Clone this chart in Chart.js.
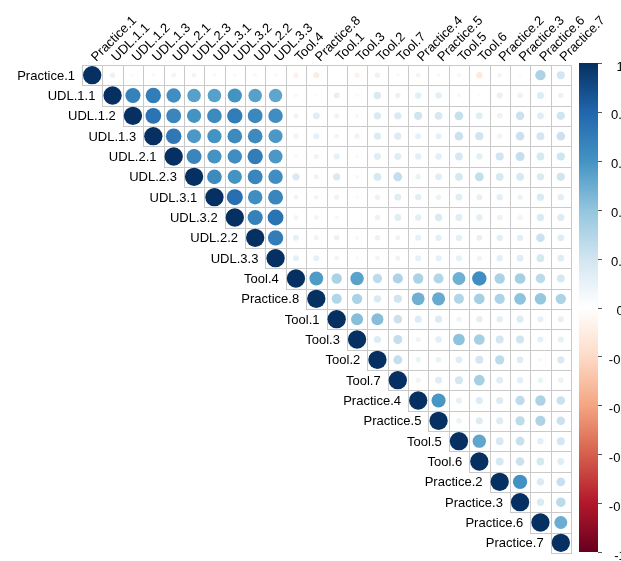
<!DOCTYPE html>
<html>
<head>
<meta charset="utf-8">
<script src="https://cdn.jsdelivr.net/npm/chart.js@4.4.1/dist/chart.umd.min.js"></script>
<style>
  html, body { margin: 0; padding: 0; background: #fff; overflow: hidden; }
  #wrap { width: 621px; height: 561px; }
</style>
</head>
<body>
<div id="wrap"><canvas id="corr" width="621" height="561"></canvas></div>
<script>
  const variables = [
    'Practice.1', 'UDL.1.1', 'UDL.1.2', 'UDL.1.3', 'UDL.2.1', 'UDL.2.3', 'UDL.3.1', 'UDL.3.2',
    'UDL.2.2', 'UDL.3.3', 'Tool.4', 'Practice.8', 'Tool.1', 'Tool.3', 'Tool.2', 'Tool.7',
    'Practice.4', 'Practice.5', 'Tool.5', 'Tool.6', 'Practice.2', 'Practice.3', 'Practice.6', 'Practice.7'
  ];

  // correlations to the right of the diagonal, one row per variable
  const upper = [
    [0.09, 0.03, 0.04, 0.07, 0.07, 0.04, 0.04, 0.05, 0.04, -0.08, -0.11, 0.01, -0.08, 0.09, 0.04, 0.07, 0.05, -0.05, -0.12, 0.07, 0.03, 0.32, 0.19],
    [0.68, 0.70, 0.62, 0.55, 0.55, 0.60, 0.55, 0.53, 0.05, 0.03, 0.11, 0.04, 0.16, 0.09, 0.12, 0.12, 0.05, 0.03, 0.11, 0.09, 0.15, 0.09],
    [0.74, 0.66, 0.60, 0.64, 0.70, 0.65, 0.62, 0.08, 0.14, 0.08, 0.05, 0.16, 0.16, 0.20, 0.18, 0.23, 0.14, 0.09, 0.22, 0.14, 0.20],
    [0.72, 0.58, 0.60, 0.64, 0.64, 0.58, 0.08, 0.11, 0.07, 0.08, 0.15, 0.15, 0.11, 0.11, 0.22, 0.20, 0.08, 0.22, 0.19, 0.22],
    [0.66, 0.60, 0.62, 0.70, 0.58, 0.05, 0.08, 0.11, 0.04, 0.14, 0.14, 0.12, 0.12, 0.18, 0.12, 0.20, 0.24, 0.18, 0.20],
    [0.64, 0.60, 0.66, 0.62, 0.16, 0.08, 0.16, 0.05, 0.18, 0.24, 0.09, 0.14, 0.18, 0.24, 0.18, 0.18, 0.16, 0.20],
    [0.76, 0.62, 0.66, 0.07, 0.07, 0.08, 0.03, 0.09, 0.14, 0.12, 0.09, 0.14, 0.11, 0.12, 0.09, 0.16, 0.12],
    [0.68, 0.74, 0.07, 0.07, 0.05, 0.02, 0.09, 0.14, 0.12, 0.16, 0.14, 0.12, 0.09, 0.08, 0.16, 0.15],
    [0.70, 0.11, 0.08, 0.09, 0.05, 0.09, 0.08, 0.11, 0.12, 0.12, 0.11, 0.12, 0.12, 0.22, 0.14],
    [0.11, 0.11, 0.07, 0.04, 0.07, 0.08, 0.11, 0.11, 0.11, 0.08, 0.12, 0.14, 0.18, 0.14],
    [0.57, 0.32, 0.54, 0.26, 0.31, 0.32, 0.30, 0.49, 0.62, 0.32, 0.34, 0.27, 0.18],
    [0.30, 0.32, 0.16, 0.20, 0.49, 0.51, 0.30, 0.34, 0.31, 0.41, 0.39, 0.32],
    [0.43, 0.43, 0.22, 0.15, 0.15, 0.08, 0.12, 0.12, 0.15, 0.11, 0.11],
    [0.15, 0.24, 0.08, 0.12, 0.41, 0.34, 0.19, 0.20, 0.11, 0.11],
    [0.24, 0.09, 0.09, 0.14, 0.19, 0.26, 0.14, 0.05, 0.16],
    [0.08, 0.14, 0.19, 0.34, 0.14, 0.12, 0.09, 0.09],
    [0.59, 0.11, 0.15, 0.15, 0.26, 0.32, 0.22],
    [0.09, 0.15, 0.15, 0.26, 0.31, 0.22],
    [0.53, 0.18, 0.23, 0.12, 0.19],
    [0.18, 0.22, 0.18, 0.14],
    [0.61, 0.16, 0.23],
    [0.16, 0.27],
    [0.50],
    []
  ];

  const legendTicks = [1, 0.8, 0.6, 0.4, 0.2, 0, -0.2, -0.4, -0.6, -0.8, -1];
  const legendLabels = ['1', '0.8', '0.6', '0.4', '0.2', '0', '-0.2', '-0.4', '-0.6', '-0.8', '-1'];

  // RdBu, from -1 to 1
  const palette = ['#67001F', '#B2182B', '#D6604D', '#F4A582', '#FDDBC7', '#FFFFFF',
                   '#D1E5F0', '#92C5DE', '#4393C3', '#2166AC', '#053061'];

  const FONT = '13px "Liberation Sans", Arial, sans-serif';
  const GRID = '#c9c9c9';

  function hexToRgb(h) {
    const n = parseInt(h.slice(1), 16);
    return [(n >> 16) & 255, (n >> 8) & 255, n & 255];
  }

  function corrColor(v) {
    const t = (v + 1) / 2 * (palette.length - 1);
    const i = Math.max(0, Math.min(Math.floor(t), palette.length - 2));
    const f = t - i;
    const a = hexToRgb(palette[i]);
    const b = hexToRgb(palette[i + 1]);
    const c = a.map((x, k) => Math.round(x + (b[k] - x) * f));
    return `rgb(${c[0]},${c[1]},${c[2]})`;
  }

  const points = [];
  variables.forEach(function (_, i) {
    points.push({ x: i, y: i, v: 1 });
    upper[i].forEach(function (v, k) {
      points.push({ x: i + k + 1, y: i, v: v });
    });
  });

  function cellSize(chart) {
    const s = chart.scales.x;
    return Math.abs(s.getPixelForValue(1) - s.getPixelForValue(0));
  }

  function circleRadius(c) {
    return c.raw ? 0.45 * cellSize(c.chart) * Math.sqrt(Math.abs(c.raw.v)) : 0;
  }

  const gridPlugin = {
    id: 'cellGrid',
    beforeDatasetsDraw(chart) {
      const ctx = chart.ctx;
      const xs = chart.scales.x;
      const ys = chart.scales.y;
      ctx.save();
      ctx.strokeStyle = GRID;
      ctx.lineWidth = 1;
      for (let i = 0; i < variables.length; i++) {
        for (let j = i; j < variables.length; j++) {
          const l = Math.round(xs.getPixelForValue(j - 0.5)) + 0.5;
          const r = Math.round(xs.getPixelForValue(j + 0.5)) + 0.5;
          const t = Math.round(ys.getPixelForValue(i - 0.5)) + 0.5;
          const b = Math.round(ys.getPixelForValue(i + 0.5)) + 0.5;
          ctx.strokeRect(l, t, r - l, b - t);
        }
      }
      ctx.restore();
    }
  };

  const labelPlugin = {
    id: 'corrLabels',
    afterDraw(chart) {
      const ctx = chart.ctx;
      const xs = chart.scales.x;
      const ys = chart.scales.y;
      ctx.save();
      ctx.font = FONT;
      ctx.fillStyle = '#000';

      // column labels, rotated
      variables.forEach(function (name, j) {
        ctx.save();
        ctx.translate(xs.getPixelForValue(j) + 4, ys.getPixelForValue(-0.5) - 3);
        ctx.rotate(-Math.PI / 4);
        ctx.textAlign = 'left';
        ctx.textBaseline = 'alphabetic';
        ctx.fillText(name, 0, 0);
        ctx.restore();
      });

      // row labels, left of the diagonal cell
      ctx.textAlign = 'right';
      ctx.textBaseline = 'middle';
      variables.forEach(function (name, i) {
        ctx.fillText(name, xs.getPixelForValue(i - 0.5) - 7, ys.getPixelForValue(i) + 1);
      });

      // colour legend
      const top = ys.getPixelForValue(-0.5) - 2;
      const bottom = ys.getPixelForValue(23.5) - 1;
      const left = chart.chartArea.right + 8;
      const width = 19;
      const grad = ctx.createLinearGradient(0, bottom, 0, top);
      palette.forEach(function (c, k) {
        grad.addColorStop(k / (palette.length - 1), c);
      });
      ctx.fillStyle = grad;
      ctx.fillRect(left, top, width, bottom - top);

      ctx.strokeStyle = '#555';
      ctx.lineWidth = 1;
      ctx.fillStyle = '#000';
      ctx.textAlign = 'center';
      ctx.textBaseline = 'middle';
      legendTicks.forEach(function (t, k) {
        const y = top + (1 - t) / 2 * (bottom - top);
        ctx.beginPath();
        ctx.moveTo(left + width, Math.round(y) + 0.5);
        ctx.lineTo(left + width + 4, Math.round(y) + 0.5);
        ctx.stroke();
        ctx.fillText(legendLabels[k], left + width + 22, y + 4);
      });
      ctx.restore();
    }
  };

  new Chart(document.getElementById('corr'), {
    type: 'scatter',
    data: {
      datasets: [{
        data: points,
        pointStyle: 'circle',
        borderWidth: 0,
        backgroundColor: (c) => corrColor(c.raw ? c.raw.v : 0),
        pointRadius: circleRadius,
        pointHoverRadius: circleRadius
      }]
    },
    options: {
      responsive: false,
      animation: false,
      devicePixelRatio: 1,
      layout: { padding: { left: 82, right: 50, top: 65, bottom: 8 } },
      plugins: {
        legend: { display: false },
        tooltip: { enabled: false }
      },
      scales: {
        x: { type: 'linear', min: -0.5, max: 23.5, display: false },
        y: { type: 'linear', min: -0.5, max: 23.5, reverse: true, display: false }
      }
    },
    plugins: [gridPlugin, labelPlugin]
  });
</script>
</body>
</html>
